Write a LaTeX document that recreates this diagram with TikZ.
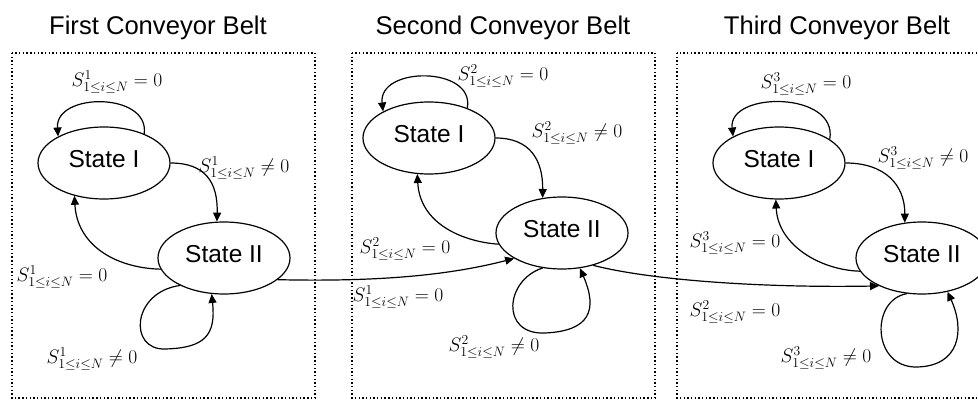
\RequirePackage{fix-cm}
\documentclass[tikz,border=0pt]{standalone}
\usepackage{fontspec}
\setmainfont{Liberation Sans}
\usetikzlibrary{arrows.meta,shapes.geometric}
\newcommand\Slab[2]{$S^{#1}_{1\le i\le N}#2 0$}
\begin{document}
\begin{tikzpicture}[x=1pt,y=-1pt,
  state/.style={ellipse,draw,line width=1.2pt,minimum width=132pt,minimum height=72pt,
    inner sep=0pt,font=\fontsize{24.5}{28}\selectfont,text depth=8pt},
  title/.style={font=\fontsize{25.6}{30}\selectfont,anchor=base},
  lab/.style={font=\fontsize{19.5}{23}\selectfont,inner sep=0pt},
  frame/.style={line width=1.4pt,dash pattern=on 1.4pt off 2.3pt},
  conn/.style={line width=1.2pt,-{Triangle[length=9pt,width=8pt]}},
]
\useasboundingbox (0,0) rectangle (978,401);
\clip (0,0) rectangle (978,401);

\node[title] (t1) at (158,35) {First Conveyor Belt};
\node[title] (t2) at (503,35) {Second Conveyor Belt};
\node[title] (t3) at (837,35) {Third Conveyor Belt};

\draw[frame] (12,53) rectangle (315,398);
\draw[frame] (352,53) rectangle (655,398);
\draw[frame] (677,53) rectangle (1000,398);

\node[state] (a1) at (104,163) {State I};
\node[state] (b1) at (224,258) {State II};
\node[state] (a2) at (429,138) {State I};
\node[state] (b2) at (562,233) {State II};
\node[state] (a3) at (779,163) {State I};
\node[state] (b3) at (922,258) {State II};

% first belt
\draw[conn] (a1.36) .. controls (150,92) and (55,92) .. (a1.150);
\draw[conn] (a1.east) .. controls (205,163) and (218,182) .. (b1.101);
\draw[conn] (b1.190) .. controls (115,268) and (77,245) .. (a1.228);
\draw[conn] (b1.212) .. controls (132,292) and (128,350) .. (165,349)
  .. controls (205,348) and (216,335) .. (b1.251);
\draw[conn] (b1.338) .. controls (380,282) and (450,275) .. (b2.208);

% second belt
\draw[conn] (a2.38) .. controls (475,66) and (378,66) .. (a2.150);
\draw[conn] (a2.east) .. controls (530,138) and (543,160) .. (b2.119);
\draw[conn] (b2.190) .. controls (465,242) and (420,225) .. (a2.252);
\draw[conn] (b2.241) .. controls (505,280) and (500,335) .. (545,333)
  .. controls (590,331) and (598,310) .. (b2.297);
\draw[conn] (b2.314) .. controls (650,280) and (760,288) .. (b3.213);

% third belt
\draw[conn] (a3.25) .. controls (838,91) and (728,91) .. (a3.150);
\draw[conn] (a3.east) .. controls (885,163) and (905,185) .. (b3.116);
\draw[conn] (b3.192) .. controls (820,270) and (778,245) .. (a3.265);
\draw[conn] (b3.247) .. controls (870,300) and (872,368) .. (917,367)
  .. controls (960,366) and (965,330) .. (b3.307);

% labels
\node[lab] (l1) at (117,82) {\Slab{1}{=}};
\node[lab] (l2) at (244,168) {\Slab{1}{\neq}};
\node[lab] (l3) at (62,277) {\Slab{1}{=}};
\node[lab] (l4) at (92,359) {\Slab{1}{\neq}};
\node[lab] (l5) at (503,76) {\Slab{2}{=}};
\node[lab] (l6) at (577,133) {\Slab{2}{\neq}};
\node[lab] (l7) at (405,249) {\Slab{2}{=}};
\node[lab] (l8) at (398,297) {\Slab{1}{=}};
\node[lab] (l9) at (494,347) {\Slab{2}{\neq}};
\node[lab] (l10) at (806,84) {\Slab{3}{=}};
\node[lab] (l11) at (923,158) {\Slab{3}{\neq}};
\node[lab] (l12) at (735,243) {\Slab{3}{=}};
\node[lab] (l13) at (735,312) {\Slab{2}{=}};
\node[lab] (l14) at (826,358) {\Slab{3}{\neq}};
\end{tikzpicture}
\end{document}
